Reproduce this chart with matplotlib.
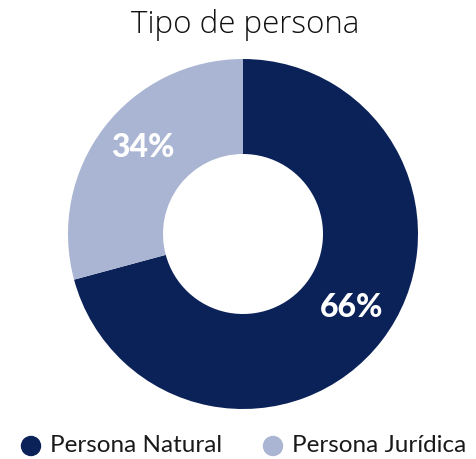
import matplotlib
matplotlib.use("Agg")
import matplotlib.pyplot as plt
import numpy as np

categories = ["Persona Natural", "Persona Jurídica"]
values = [70.8, 29.2]          # wedge sizes as drawn in the reference
labels = ["66%", "34%"]        # labels printed on the reference
colors = ["#0b2259", "#aab5d3"]
title = "Tipo de persona"

W, H = 476, 459
fig = plt.figure(figsize=(W/100, H/100), dpi=100)
cx, cy, R = 243, 234, 175
ax = fig.add_axes([(cx-R)/W, (H-cy-R)/H, 2*R/W, 2*R/H])
wedges, _ = ax.pie(values, colors=colors, startangle=90, counterclock=False,
                   radius=1, wedgeprops=dict(width=1-80/175, linewidth=0))
ax.set_xlim(-1, 1); ax.set_ylim(-1, 1)
ax.set_aspect('equal'); ax.axis('off')

label_pos = [(0.75, -34), (0.757, 139)]
for lab, (r, a) in zip(labels, label_pos):
    ax.text(r*np.cos(np.radians(a)), r*np.sin(np.radians(a)), lab, color="white",
            fontsize=23, fontweight="black", family="Lato", ha="center", va="center")

fig.text(245/W, 1-25/H, title, ha="center", va="center", fontsize=22.5,
         family="Open Sans", fontweight=300, color="#111111")

# legend
leg_items = [(31, 50), (273, 292)]
for (mx, tx), cat, col in zip(leg_items, categories, colors):
    fig.patches.append(matplotlib.patches.Ellipse((mx/W, 1-446/H), 19/W, 19/H,
                        transform=fig.transFigure, color=col))
    fig.text(tx/W, 1-446/H, cat, ha="left", va="center", fontsize=17.5,
             family="Lato", color="#1a1a1a")

fig.savefig("out.png", dpi=100)
